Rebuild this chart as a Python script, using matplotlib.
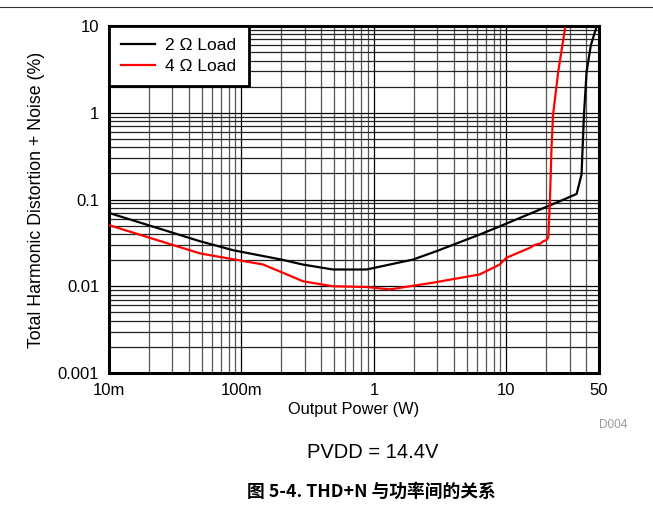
import matplotlib
matplotlib.use("Agg")
import matplotlib.pyplot as plt
from matplotlib.ticker import FixedLocator, LogLocator, NullFormatter
from matplotlib.lines import Line2D

plt.rcParams['font.family'] = ['Liberation Sans', 'Noto Sans CJK SC', 'DejaVu Sans']

# THD+N vs output power, PVDD = 14.4 V
p_2ohm = [0.01, 0.0487, 0.0867, 0.2, 0.29, 0.49, 0.88, 1.97, 2.97, 6.3, 8.9,
          25.3, 33.9, 36.9, 38.5, 40.3, 43.4, 47.9]
thd_2ohm = [0.070, 0.033, 0.026, 0.0203, 0.0178, 0.0156, 0.0156, 0.0203, 0.0254,
            0.0395, 0.049, 0.0955, 0.116, 0.194, 0.95, 2.97, 6.0, 9.8]

p_4ohm = [0.01, 0.0487, 0.146, 0.292, 0.49, 0.88, 1.32, 2.8, 6.3, 8.9, 10.0,
          15.0, 16.4, 18.0, 18.97, 20.0, 20.7, 21.3, 21.9, 22.5, 24.6, 27.7]
thd_4ohm = [0.0506, 0.0239, 0.0178, 0.0114, 0.0100, 0.0098, 0.0092, 0.0110, 0.0137,
            0.0178, 0.0213, 0.0277, 0.0300, 0.0310, 0.0330, 0.0340, 0.0362, 0.0955,
            0.39, 0.95, 2.95, 9.4]

x_ticks = [0.01, 0.1, 1, 10, 50]
x_labels = ["10m", "100m", "1", "10", "50"]
y_ticks = [0.001, 0.01, 0.1, 1, 10]
y_labels = ["0.001", "0.01", "0.1", "1", "10"]

W, H = 653, 508
fig = plt.figure(figsize=(W / 100, H / 100), dpi=100)
ax = fig.add_axes([109 / W, 1 - 373 / H, (599 - 109) / W, (373 - 26) / H])

ax.set_xscale('log')
ax.set_yscale('log')
ax.set_xlim(0.01, 50)
ax.set_ylim(0.001, 10)

ax.xaxis.set_major_locator(FixedLocator(x_ticks))
ax.set_xticklabels(x_labels)
ax.yaxis.set_major_locator(FixedLocator(y_ticks))
ax.set_yticklabels(y_labels)
ax.xaxis.set_minor_locator(LogLocator(base=10, subs=range(2, 10), numticks=20))
ax.yaxis.set_minor_locator(LogLocator(base=10, subs=range(2, 10), numticks=20))
ax.xaxis.set_minor_formatter(NullFormatter())
ax.yaxis.set_minor_formatter(NullFormatter())
ax.tick_params(which='both', length=0, labelsize=12, pad=7)

ax.grid(True, which='major', color='black', linewidth=0.9)
ax.grid(True, which='minor', axis='x', color='#555555', linewidth=0.9)
ax.grid(True, which='minor', axis='y', color='#222222', linewidth=0.9)
ax.set_axisbelow(True)

for s in ax.spines.values():
    s.set_linewidth(2.2)

ax.plot(p_2ohm, thd_2ohm, color='black', linewidth=1.6, zorder=3)
ax.plot(p_4ohm, thd_4ohm, color='#ff0000', linewidth=1.6, zorder=3)

handles = [Line2D([], [], color='black', linewidth=1.6),
           Line2D([], [], color='#ff0000', linewidth=1.6)]
leg = ax.legend(handles, ["2 \u03a9 Load", "4 \u03a9 Load"], loc='upper left',
                bbox_to_anchor=(0, 1), borderaxespad=0, fancybox=False,
                framealpha=1, edgecolor='black', fontsize=12.5,
                handlelength=1.95, handletextpad=0.6, labelspacing=0.3,
                borderpad=0.7)
leg.get_frame().set_linewidth(2.0)
leg.set_zorder(5)

ax.set_xlabel("Output Power (W)", fontsize=11.8, labelpad=3)
ax.set_ylabel("Total Harmonic Distortion + Noise (%)", fontsize=12.8, labelpad=9)

fig.text(613 / W, 1 - 425 / H, "D004", fontsize=8.5, color='#999999',
         ha='center', va='center')
fig.text(373 / W, 1 - 453 / H, "PVDD = 14.4V", fontsize=14.5,
         ha='center', va='center')
fig.text(371 / W, 1 - 492 / H, "图 5-4. THD+N 与功率间的关系", fontsize=12.8,
         fontweight='bold', ha='center', va='center',
         family=['Noto Sans CJK SC', 'Liberation Sans'])

fig.add_artist(Line2D([0, 1], [1 - 7 / H, 1 - 7 / H], transform=fig.transFigure,
                      color='#333333', linewidth=0.8))

fig.savefig("out.png", dpi=100)
